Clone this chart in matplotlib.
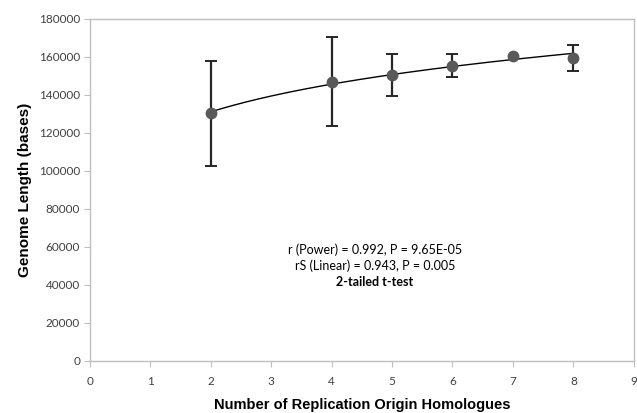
import numpy as np
import matplotlib
matplotlib.use("Agg")
import matplotlib.pyplot as plt

x_vals = [2, 4, 5, 6, 7, 8]
genome_len = [130400, 147000, 150400, 155500, 160400, 159500]
err = [27700, 23400, 11100, 6100, 0, 6900]

x_ticks = list(range(0, 10))
y_ticks = list(range(0, 180001, 20000))

fig = plt.figure(figsize=(6.37, 4.13), dpi=100)
ax = fig.add_axes([0.141, 0.126, 0.854, 0.828])

gray = "#BFBFBF"
tick_font = "Lato"

# power trendline (log-log least squares, like Excel)
b, lna = np.polyfit(np.log(x_vals), np.log(genome_len), 1)
xf = np.linspace(min(x_vals), max(x_vals), 200)
ax.plot(xf, np.exp(lna) * xf ** b, color="black", lw=1.0, zorder=3)

xe = [x for x, e in zip(x_vals, err) if e > 0]
ye = [y for y, e in zip(genome_len, err) if e > 0]
ee = [e for e in err if e > 0]
ax.errorbar(xe, ye, yerr=ee, fmt="none", ecolor="#262626", elinewidth=1.6,
            capsize=4, capthick=1.4, zorder=2)
ax.plot(x_vals, genome_len, "o", color="#595959", markersize=7.5, zorder=4)

ax.set_xlim(0, 9)
ax.set_ylim(0, 180000)
ax.set_xticks(x_ticks)
ax.set_yticks(y_ticks)
ax.set_xticklabels([str(t) for t in x_ticks], family=tick_font, fontsize=8.5, color="#404040")
ax.set_yticklabels([str(t) for t in y_ticks], family=tick_font, fontsize=8.5, color="#404040")
ax.tick_params(axis="both", direction="out", length=4, width=0.8, color=gray)
ax.tick_params(axis="x", pad=7)
ax.tick_params(axis="y", pad=3)
for s in ax.spines.values():
    s.set_color(gray)
    s.set_linewidth(1.0)

ax.set_xlabel("Number of Replication Origin Homologues", family="Liberation Sans",
              fontsize=10.5, fontweight="bold", labelpad=8)
ax.set_ylabel("Genome Length (bases)", family="Liberation Sans",
              fontsize=11, fontweight="bold", labelpad=5)

tx = 4.72
ax.text(tx, 58400, "r (Power) = 0.992, P = 9.65E-05", ha="center", va="center",
        family=tick_font, fontsize=9)
ax.text(tx, 50300, "rS (Linear) = 0.943, P = 0.005", ha="center", va="center",
        family=tick_font, fontsize=9)
ax.text(tx, 41600, "2-tailed t-test", ha="center", va="center",
        family=tick_font, fontsize=9, fontweight="bold")

fig.savefig("out.png", dpi=100)
